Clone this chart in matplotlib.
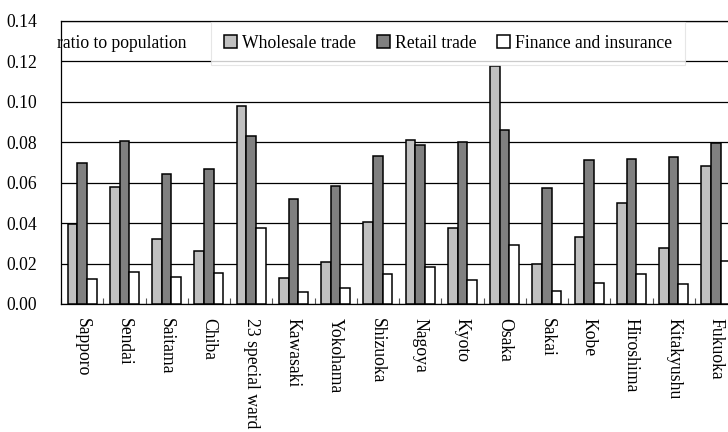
import numpy as np
import matplotlib
matplotlib.use("Agg")
import matplotlib.pyplot as plt
from matplotlib.ticker import FixedLocator

plt.rcParams['font.family'] = ['Liberation Serif', 'DejaVu Serif']
plt.rcParams['font.size'] = 12.7

cities = ['Sapporo', 'Sendai', 'Saitama', 'Chiba', '23 special ward', 'Kawasaki',
          'Yokohama', 'Shizuoka', 'Nagoya', 'Kyoto', 'Osaka', 'Sakai', 'Kobe',
          'Hiroshima', 'Kitakyushu', 'Fukuoka']
wholesale = [0.0393, 0.0578, 0.0323, 0.0264, 0.0977, 0.0130, 0.0210, 0.0403,
             0.0809, 0.0376, 0.1175, 0.0200, 0.0330, 0.0500, 0.0279, 0.0683]
retail = [0.0698, 0.0804, 0.0640, 0.0668, 0.0828, 0.0517, 0.0583, 0.0733,
          0.0784, 0.0799, 0.0861, 0.0571, 0.0713, 0.0718, 0.0726, 0.0794]
finance = [0.0124, 0.0160, 0.0135, 0.0153, 0.0378, 0.0061, 0.0079, 0.0147,
           0.0185, 0.0117, 0.0292, 0.0063, 0.0106, 0.0150, 0.0101, 0.0211]

W, H = 728, 432
fig = plt.figure(figsize=(W / 100, H / 100), dpi=100)
# plot area runs a little past the right edge of the image
ax = fig.add_axes([61 / W, 128 / H, 676 / W, 283.3 / H])

x = np.arange(len(cities))
bw = 0.23
ax.bar(x - bw, wholesale, bw, color='#c0c0c0', edgecolor='black', linewidth=1.1,
       label='Wholesale trade', zorder=3)
ax.bar(x, retail, bw, color='#808080', edgecolor='black', linewidth=1.1,
       label='Retail trade', zorder=3)
ax.bar(x + bw, finance, bw, color='white', edgecolor='black', linewidth=1.1,
       label='Finance and insurance', zorder=3)

ax.set_xlim(-0.5, len(cities) - 0.5)
ax.set_ylim(0, 0.14)
ax.set_yticks(np.arange(0, 0.141, 0.02))
ax.set_yticklabels([f'{v:.2f}' for v in np.arange(0, 0.141, 0.02)])
ax.yaxis.grid(True, color='black', linewidth=0.9, zorder=0)
ax.set_axisbelow(True)

ax.set_xticks(x)
ax.set_xticklabels(cities, rotation=-90, va='top', ha='center')
ax.xaxis.set_minor_locator(FixedLocator(np.arange(-0.5, len(cities), 1.0)))
ax.tick_params(axis='x', which='major', length=0, pad=10)
ax.tick_params(axis='x', which='minor', direction='in', length=4, width=0.8,
               color='#555555')
ax.tick_params(axis='y', length=0, pad=17)

for side in ['left', 'bottom', 'top']:
    ax.spines[side].set_color('black')
    ax.spines[side].set_linewidth(0.9)
ax.spines['right'].set_visible(False)

leg = ax.legend(ncol=3, loc='center', bbox_to_anchor=(448 / W, 1 - 43.5 / H),
                bbox_transform=fig.transFigure, frameon=True, fancybox=False,
                borderpad=0.72, handlelength=0.75, handleheight=0.75,
                handletextpad=0.25, columnspacing=1.2, borderaxespad=0)
leg.get_frame().set_facecolor('white')
leg.get_frame().set_edgecolor('#e0e0e0')
leg.get_frame().set_linewidth(0.8)
leg.set_zorder(5)

fig.text(57 / W, 1 - 43 / H, 'ratio to population', ha='left', va='center',
         zorder=6)

plt.savefig('out.png', dpi=100)
